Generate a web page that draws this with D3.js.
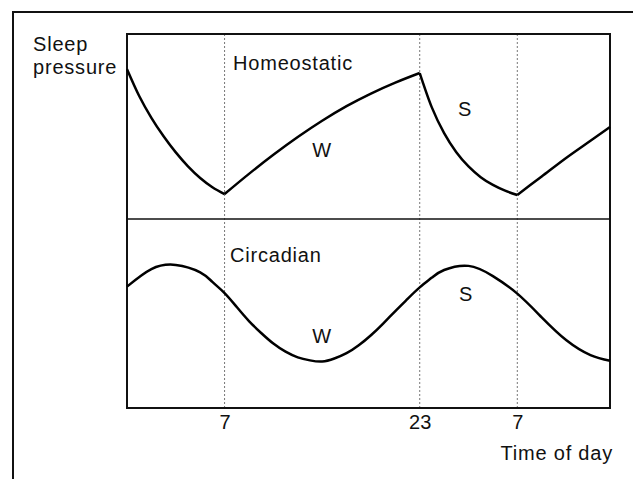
<head>
<meta charset="utf-8" />
<script src="https://d3js.org/d3.v7.min.js"></script>
</head>
<style>
  body { margin: 0; background: #fff; }
  text { font-family: "Liberation Sans", Arial, sans-serif; font-size: 20px; fill: #111; letter-spacing: 0.8px; }
</style>
<body>
</body>
<script>
// hours of day (continuous, -1 = 23h the day before) and relative level
var tickHours = [7, 23, 31];
var tickLabels = ["7", "23", "7"];

var homeoSleep1 = [[-1,0.81],[0,0.665],[1,0.547],[2,0.447],[3,0.36],[4,0.285],[5,0.222],[6,0.172],[7,0.135]];
var homeoWake1 = [[7,0.135],[9,0.244],[11,0.347],[13,0.443],[15,0.531],[17,0.61],[19,0.678],[21,0.737],[23,0.789]];
var homeoSleep2 = [[23,0.789],[24,0.602],[25,0.464],[26,0.361],[27,0.284],[28,0.226],[29,0.184],[30,0.153],[31,0.13]];
var homeoWake2 = [[31,0.13],[33,0.23],[35,0.33],[37,0.423],[38.6,0.497]];

var circadian = [[-1,0.642],[1,0.735],[3,0.757],[5,0.718],[6,0.667],[7,0.608],[8,0.534],[9,0.46],[10,0.397],
  [11,0.341],[12,0.298],[13,0.268],[14,0.252],[15,0.246],[16,0.262],[17,0.29],[18,0.332],[19,0.385],
  [20,0.447],[21,0.513],[22,0.577],[23,0.638],[24,0.69],[25,0.73],[27,0.752],[29,0.698],[31,0.605],
  [33,0.48],[35,0.36],[37,0.28],[38.6,0.25]];

var svg = d3.select("body").append("svg")
    .attr("width", 633)
    .attr("height", 479);

// outer frame (runs off the picture right and bottom)
svg.append("rect")
    .attr("x", 13).attr("y", 12)
    .attr("width", 700).attr("height", 600)
    .attr("fill", "none").attr("stroke", "#111").attr("stroke-width", 2);

var boxL = 127, boxR = 610, boxT = 34, boxM = 219, boxB = 408;

var x = d3.scaleLinear().domain([-1, 38.6]).range([boxL, boxR]);
var yTop = d3.scaleLinear().domain([0, 1]).range([boxM, boxT]);
var yBot = d3.scaleLinear().domain([0, 1]).range([boxB, boxM]);

// dotted guides
svg.selectAll(".guide")
    .data(tickHours)
    .enter()
    .append("line")
        .attr("class", "guide")
        .attr("x1", function (d) { return x(d); })
        .attr("x2", function (d) { return x(d); })
        .attr("y1", boxT).attr("y2", boxB)
        .attr("stroke", "#777")
        .attr("stroke-width", 1)
        .attr("stroke-dasharray", "2,2");

// plot box + divider
svg.append("rect")
    .attr("x", boxL).attr("y", boxT)
    .attr("width", boxR - boxL).attr("height", boxB - boxT)
    .attr("fill", "none").attr("stroke", "#111").attr("stroke-width", 2);
svg.append("line")
    .attr("x1", boxL).attr("x2", boxR)
    .attr("y1", boxM).attr("y2", boxM)
    .attr("stroke", "#111").attr("stroke-width", 1.6);

var lineTop = d3.line()
    .x(function (d) { return x(d[0]); })
    .y(function (d) { return yTop(d[1]); })
    .curve(d3.curveMonotoneX);

[homeoSleep1, homeoWake1, homeoSleep2, homeoWake2].forEach(function (seg) {
    svg.append("path")
        .attr("d", lineTop(seg))
        .attr("fill", "none")
        .attr("stroke", "#000")
        .attr("stroke-width", 2.5)
        .attr("stroke-linejoin", "miter");
});

var lineBot = d3.line()
    .x(function (d) { return x(d[0]); })
    .y(function (d) { return yBot(d[1]); })
    .curve(d3.curveNatural);

svg.append("path")
    .attr("d", lineBot(circadian))
    .attr("fill", "none")
    .attr("stroke", "#000")
    .attr("stroke-width", 2.5);

// x axis labels
var axis = svg.append("g")
    .attr("transform", "translate(0," + boxB + ")")
    .call(d3.axisBottom(x)
        .tickValues(tickHours)
        .tickSize(0)
        .tickPadding(7)
        .tickFormat(function (d, i) { return tickLabels[i]; }));
axis.select(".domain").remove();
axis.selectAll("text")
    .attr("font-family", null)
    .attr("font-size", null)
    .style("letter-spacing", "0px");

// labels
svg.append("text").attr("x", 33).attr("y", 51).text("Sleep");
svg.append("text").attr("x", 33).attr("y", 74).text("pressure");
svg.append("text").attr("x", 233).attr("y", 70).text("Homeostatic");
svg.append("text").attr("x", 230).attr("y", 262).text("Circadian");
svg.append("text").attr("x", 322).attr("y", 157).attr("text-anchor", "middle").text("W");
svg.append("text").attr("x", 465).attr("y", 116).attr("text-anchor", "middle").text("S");
svg.append("text").attr("x", 322).attr("y", 343).attr("text-anchor", "middle").text("W");
svg.append("text").attr("x", 466).attr("y", 301).attr("text-anchor", "middle").text("S");
svg.append("text").attr("x", 613).attr("y", 460).attr("text-anchor", "end").text("Time of day");
</script>
